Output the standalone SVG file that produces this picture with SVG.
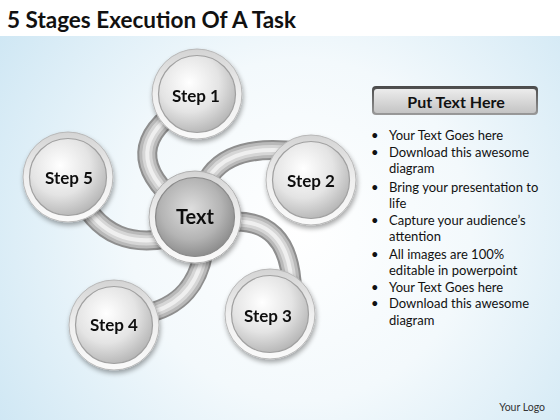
<svg xmlns="http://www.w3.org/2000/svg" width="560" height="420" viewBox="0 0 560 420">
<defs>
<radialGradient id="bg" cx="300" cy="230" r="380" gradientUnits="userSpaceOnUse">
<stop offset="0" stop-color="#ffffff"/>
<stop offset="0.45" stop-color="#f3f9fc"/>
<stop offset="1" stop-color="#cbe5f3"/>
</radialGradient>
<linearGradient id="ring" x1="0" y1="0" x2="0" y2="1">
<stop offset="0" stop-color="#d4d4d4"/>
<stop offset="0.5" stop-color="#efefef"/>
<stop offset="1" stop-color="#fafafa"/>
</linearGradient>
<radialGradient id="ball" cx="0.4" cy="0.35" r="0.7">
<stop offset="0" stop-color="#ffffff"/>
<stop offset="0.55" stop-color="#e4e4e4"/>
<stop offset="1" stop-color="#b2b2b2"/>
</radialGradient>
<radialGradient id="ballC" cx="0.45" cy="0.4" r="0.7">
<stop offset="0" stop-color="#dedede"/>
<stop offset="0.55" stop-color="#b4b4b4"/>
<stop offset="1" stop-color="#7c7c7c"/>
</radialGradient>
<linearGradient id="boxB" x1="0" y1="0" x2="0" y2="1">
<stop offset="0" stop-color="#4a4a4a"/>
<stop offset="1" stop-color="#9a9a9a"/>
</linearGradient>
<linearGradient id="boxF" x1="0" y1="0" x2="0" y2="1">
<stop offset="0" stop-color="#ececec"/>
<stop offset="1" stop-color="#c4c4c4"/>
</linearGradient>
<filter id="sh" x="-30%" y="-30%" width="160%" height="160%">
<feGaussianBlur in="SourceAlpha" stdDeviation="2.5"/>
<feOffset dx="1" dy="3" result="b"/>
<feComponentTransfer><feFuncA type="linear" slope="0.35"/></feComponentTransfer>
<feMerge><feMergeNode/><feMergeNode in="SourceGraphic"/></feMerge>
</filter>
<g id="sphere">
<circle r="45" fill="url(#ring)" stroke="#b8b8b8" stroke-width="1"/>
<circle r="38.5" fill="url(#ball)" stroke="#a0a0a0" stroke-width="1.2"/>
</g>
</defs>
<style>
.t1{stroke:#8e8e8e;stroke-width:20;fill:none}
.t2{stroke:#b9b9b9;stroke-width:16;fill:none}
.t3{stroke:#d6d6d6;stroke-width:10;fill:none}
.t4{stroke:#efefef;stroke-width:4;fill:none}
.lbl{font-family:Lato,"Liberation Sans",sans-serif;font-weight:bold;font-size:17px;fill:#111;text-anchor:middle}
.bul{font-family:Lato,"Liberation Sans",sans-serif;font-size:13px;fill:#111}
</style>
<rect x="0" y="0" width="560" height="420" fill="url(#bg)"/>
<rect x="0" y="0" width="560" height="36" fill="#ffffff"/>
<text x="7" y="28" font-family="Lato,'Liberation Sans',sans-serif" font-weight="bold" font-size="22" fill="#111" textLength="289" lengthAdjust="spacingAndGlyphs">5 Stages Execution Of A Task</text>

<g id="connectors">
<g id="arm1"><path class="t1" d="M180 205 Q112 150 185 105"/><path class="t2" d="M180 205 Q112 150 185 105"/><path class="t3" d="M180 205 Q112 150 185 105"/><path class="t4" d="M180 205 Q112 150 185 105"/></g>
<g id="arm2"><path class="t1" d="M200 200 Q212 140 300 152"/><path class="t2" d="M200 200 Q212 140 300 152"/><path class="t3" d="M200 200 Q212 140 300 152"/><path class="t4" d="M200 200 Q212 140 300 152"/></g>
<g id="arm3"><path class="t1" d="M225 222 Q290 215 292 290"/><path class="t2" d="M225 222 Q290 215 292 290"/><path class="t3" d="M225 222 Q290 215 292 290"/><path class="t4" d="M225 222 Q290 215 292 290"/></g>
<g id="arm4"><path class="t1" d="M205 240 Q200 305 140 315"/><path class="t2" d="M205 240 Q200 305 140 315"/><path class="t3" d="M205 240 Q200 305 140 315"/><path class="t4" d="M205 240 Q200 305 140 315"/></g>
<g id="arm5"><path class="t1" d="M190 232 Q105 262 75 185"/><path class="t2" d="M190 232 Q105 262 75 185"/><path class="t3" d="M190 232 Q105 262 75 185"/><path class="t4" d="M190 232 Q105 262 75 185"/></g>
</g>

<g id="step1" filter="url(#sh)"><use href="#sphere" x="197" y="94"/><text class="lbl" x="196" y="102">Step 1</text></g>
<g id="step2" filter="url(#sh)"><use href="#sphere" x="311" y="180"/><text class="lbl" x="311" y="187">Step 2</text></g>
<g id="step3" filter="url(#sh)"><use href="#sphere" x="270" y="314"/><text class="lbl" x="268" y="322">Step 3</text></g>
<g id="step4" filter="url(#sh)"><use href="#sphere" x="114" y="325"/><text class="lbl" x="114" y="331">Step 4</text></g>
<g id="step5" filter="url(#sh)"><use href="#sphere" x="68" y="177"/><text class="lbl" x="69" y="184">Step 5</text></g>
<g id="center" filter="url(#sh)">
<circle cx="195" cy="217" r="46" fill="url(#ring)" stroke="#b0b0b0" stroke-width="1"/>
<circle cx="195" cy="217" r="39.5" fill="url(#ballC)" stroke="#8a8a8a" stroke-width="1.2"/>
<text class="lbl" x="195" y="224" font-size="20" style="font-size:20px">Text</text>
</g>

<g id="header">
<rect x="372" y="86" width="166" height="29" rx="4" fill="url(#boxB)"/>
<rect x="374" y="89" width="162" height="24" rx="3" fill="url(#boxF)"/>
<text x="456" y="108" font-family="Lato,'Liberation Sans',sans-serif" font-weight="bold" font-size="16" fill="#111" text-anchor="middle">Put Text Here</text>
</g>

<g id="bullets">
<text class="bul" x="371" y="140">•</text><text class="bul" x="389" y="140">Your Text Goes here</text>
<text class="bul" x="371" y="157">•</text><text class="bul" x="389" y="157">Download this awesome</text>
<text class="bul" x="389" y="173">diagram</text>
<text class="bul" x="371" y="192">•</text><text class="bul" x="389" y="192">Bring your presentation to</text>
<text class="bul" x="389" y="208">life</text>
<text class="bul" x="371" y="225">•</text><text class="bul" x="389" y="225">Capture your audience’s</text>
<text class="bul" x="389" y="241">attention</text>
<text class="bul" x="371" y="259">•</text><text class="bul" x="389" y="259">All images are 100%</text>
<text class="bul" x="389" y="275">editable in powerpoint</text>
<text class="bul" x="371" y="292">•</text><text class="bul" x="389" y="292">Your Text Goes here</text>
<text class="bul" x="371" y="308">•</text><text class="bul" x="389" y="308">Download this awesome</text>
<text class="bul" x="389" y="325">diagram</text>
</g>

<text x="545" y="411" font-family="Lato,'Liberation Sans',sans-serif" font-size="10.5" fill="#333" text-anchor="end">Your Logo</text>
</svg>
